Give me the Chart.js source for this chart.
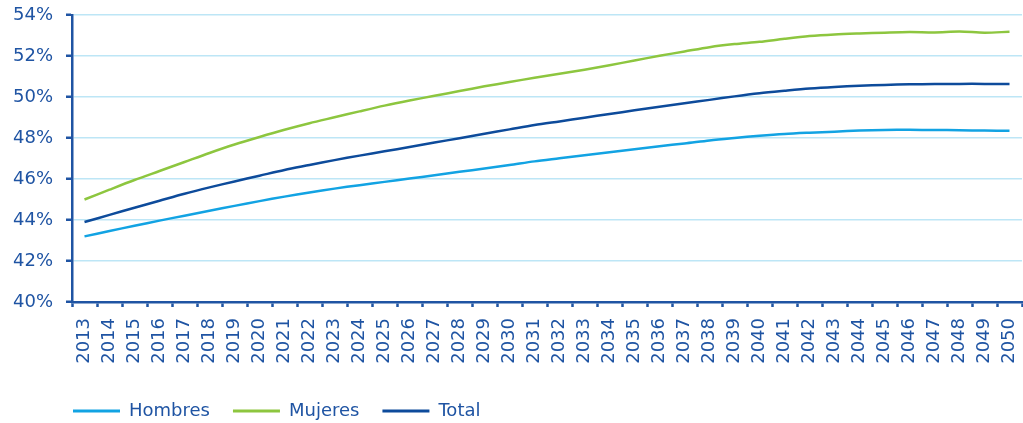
<!DOCTYPE html>
<html lang="es">
<head>
<meta charset="utf-8">
<title>Tasa por sexo 2013-2050</title>
<script src="https://cdn.jsdelivr.net/npm/chart.js@4.4.1/dist/chart.umd.min.js"></script>
<style>
    body { margin: 0; background: #ffffff; }
    canvas { display: block; }
</style>
</head>
<body>
<canvas id="tasaChart" width="1023" height="423"></canvas>
<script>
// Years on the x axis
const years = ['2013', '2014', '2015', '2016', '2017', '2018', '2019', '2020', '2021', '2022',
    '2023', '2024', '2025', '2026', '2027', '2028', '2029', '2030', '2031', '2032',
    '2033', '2034', '2035', '2036', '2037', '2038', '2039', '2040', '2041', '2042',
    '2043', '2044', '2045', '2046', '2047', '2048', '2049', '2050'];

// Series values (%)
const hombres = [43.20, 43.46, 43.72, 43.97, 44.21, 44.45, 44.69, 44.92, 45.14, 45.34,
    45.53, 45.70, 45.86, 46.02, 46.18, 46.35, 46.51, 46.68, 46.86, 47.01,
    47.16, 47.30, 47.45, 47.60, 47.73, 47.88, 48.00, 48.11, 48.20, 48.26,
    48.31, 48.36, 48.39, 48.40, 48.39, 48.38, 48.36, 48.35];

const mujeres = [45.00, 45.48, 45.95, 46.39, 46.83, 47.27, 47.68, 48.05, 48.40, 48.72,
    49.01, 49.30, 49.58, 49.83, 50.06, 50.29, 50.52, 50.73, 50.94, 51.13,
    51.33, 51.55, 51.78, 52.01, 52.22, 52.43, 52.58, 52.69, 52.84, 52.97,
    53.05, 53.10, 53.14, 53.17, 53.15, 53.19, 53.14, 53.18];

const total = [43.90, 44.25, 44.60, 44.94, 45.28, 45.59, 45.88, 46.16, 46.44, 46.68,
    46.92, 47.14, 47.35, 47.56, 47.78, 47.99, 48.21, 48.42, 48.63, 48.81,
    48.99, 49.17, 49.35, 49.52, 49.69, 49.86, 50.03, 50.18, 50.30, 50.41,
    50.49, 50.55, 50.59, 50.62, 50.63, 50.64, 50.64, 50.64];

// Y axis range
const yMin = 40;
const yMax = 54;
const yStep = 2;

const navy = '#1f54a3';
const gridBlue = '#bde6f6';

function lineSet(label, data, color) {
    return {
        label: label,
        data: data,
        borderColor: color,
        backgroundColor: color,
        borderWidth: 2.5,
        pointRadius: 0,
        tension: 0.3,
        fill: false
    };
}

// push the legend row right so it lines up under the plot
const legendShift = {
    id: 'legendShift',
    afterLayout(chart) {
        chart.legend.left += 50;
        chart.legend.right += 50;
    }
};

const ctx = document.getElementById('tasaChart').getContext('2d');
new Chart(ctx, {
    type: 'line',
    data: {
        labels: years,
        datasets: [
            lineSet('Hombres', hombres, '#12a3e3'),
            lineSet('Mujeres', mujeres, '#8dc63f'),
            lineSet('Total', total, '#0d4b9b')
        ]
    },
    plugins: [legendShift],
    options: {
        responsive: false,
        animation: false,
        layout: {
            padding: { top: 15, left: 0, right: 1, bottom: 0 }
        },
        font: { family: 'DejaVu Sans', size: 18 },
        scales: {
            x: {
                offset: true,
                afterFit: function(scale) {
                    scale.height = 77;
                    scale.paddingLeft = 0;
                    scale.paddingRight = 0;
                },
                grid: {
                    offset: true,
                    drawOnChartArea: false,
                    drawTicks: true,
                    tickLength: 5,
                    tickColor: navy,
                    tickWidth: 2.5
                },
                border: { color: navy, width: 2.5 },
                ticks: {
                    color: navy,
                    minRotation: 90,
                    maxRotation: 90,
                    autoSkip: false,
                    padding: 11,
                    font: { family: 'DejaVu Sans', size: 18 }
                }
            },
            y: {
                min: yMin,
                max: yMax,
                afterFit: function(scale) {
                    scale.width = 72;
                    scale.paddingTop = 0;
                    scale.paddingBottom = 0;
                },
                grid: {
                    color: gridBlue,
                    lineWidth: 1.5,
                    tickLength: 6,
                    tickColor: navy,
                    tickWidth: 2.5
                },
                border: { color: navy, width: 2.5 },
                ticks: {
                    stepSize: yStep,
                    color: navy,
                    padding: 13,
                    font: { family: 'DejaVu Sans', size: 18 },
                    callback: function(value) { return value + '%'; }
                }
            }
        },
        plugins: {
            tooltip: { enabled: false },
            legend: {
                position: 'bottom',
                align: 'start',
                maxHeight: 44,
                labels: {
                    color: navy,
                    boxWidth: 47,
                    boxHeight: 3,
                    padding: 23,
                    font: { family: 'DejaVu Sans', size: 18 },
                    generateLabels: function(chart) {
                        const items = Chart.defaults.plugins.legend.labels.generateLabels(chart);
                        items.forEach(item => {
                            item.fillStyle = item.strokeStyle;
                            item.lineWidth = 0;
                        });
                        return items;
                    }
                }
            }
        }
    }
});
</script>
</body>
</html>
